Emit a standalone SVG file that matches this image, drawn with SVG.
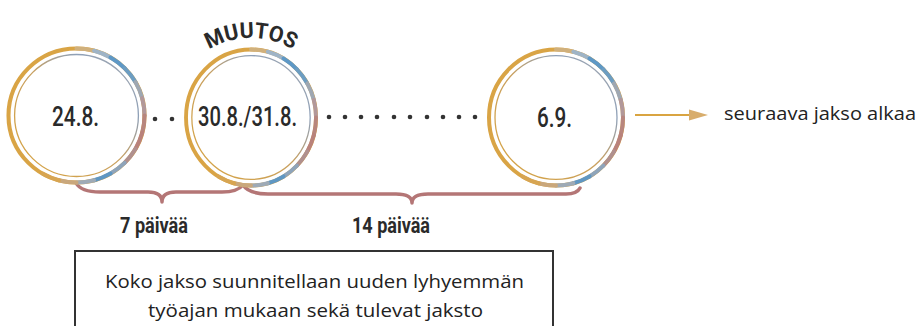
<svg xmlns="http://www.w3.org/2000/svg" width="918" height="326" viewBox="0 0 918 326">
<defs>
<linearGradient id="inner" x1="0" y1="1" x2="1" y2="0">
<stop offset="0" stop-color="#d8a440"/>
<stop offset="0.5" stop-color="#c8a060"/>
<stop offset="0.75" stop-color="#8ea0b8"/>
<stop offset="1" stop-color="#a8a8a8"/>
</linearGradient>
<g id="ringU">
<circle r="67" fill="#fff" stroke="#d9a445" stroke-width="4"/>
<g fill="none" stroke-width="4" stroke-linecap="round">
<path d="M 0 -67 A 67 67 0 0 1 17.34 -64.72" stroke="#d0b07c"/>
<path d="M 17.34 -64.72 A 67 67 0 0 1 33.5 -58.02" stroke="#9fb4c6"/>
<path d="M 33.5 -58.02 A 67 67 0 0 1 47.38 -47.38" stroke="#5e98c6"/>
<path d="M 47.38 -47.38 A 67 67 0 0 1 58.02 -33.5" stroke="#6c9dc2"/>
<path d="M 58.02 -33.5 A 67 67 0 0 1 64.72 -17.34" stroke="#9ea7b2"/>
<path d="M 64.72 -17.34 A 67 67 0 0 1 67 0" stroke="#b2989a"/>
<path d="M 67 0 A 67 67 0 0 1 64.72 17.34" stroke="#b8867e"/>
<path d="M 64.72 17.34 A 67 67 0 0 1 58.02 33.5" stroke="#b9827b"/>
<path d="M 58.02 33.5 A 67 67 0 0 1 47.38 47.38" stroke="#b0908e"/>
<path d="M 47.38 47.38 A 67 67 0 0 1 33.5 58.02" stroke="#8ea4ba"/>
<path d="M 33.5 58.02 A 67 67 0 0 1 17.34 64.72" stroke="#5f97c3"/>
<path d="M 17.34 64.72 A 67 67 0 0 1 0 67" stroke="#9eaab6"/>
<path d="M 0 67 A 67 67 0 0 1 -17.34 64.72" stroke="#c9a77c"/>
<path d="M -17.34 64.72 A 67 67 0 0 1 -33.5 58.02" stroke="#d7a552"/>
</g>
<circle r="61" fill="none" stroke="url(#inner)" stroke-width="1.3"/>
</g>
<path id="arc" d="M 191 64 A 82 82 0 0 1 311 64"/>
</defs>
<style>
.num{font-family:Roboto,"Liberation Sans",sans-serif;font-weight:500;font-size:28px;fill:#2a2a2a}
.lbl{font-family:Roboto,"Liberation Sans",sans-serif;font-weight:700;font-size:22px;fill:#2a2a2a}
.body{font-family:"Open Sans","Noto Sans",sans-serif;font-size:19px;fill:#222}
.dot{fill:#333}
.brace{fill:none;stroke:#b47676;stroke-width:3.5;stroke-linecap:round;stroke-linejoin:round}
</style>
<rect width="918" height="326" fill="#fff"/>

<g id="connectors">
<g id="dots1">
<circle class="dot" cx="155" cy="119" r="2.3"/>
<circle class="dot" cx="172" cy="119" r="2.3"/>
</g>
<g id="dots2">
<circle class="dot" cx="329" cy="117" r="2.3"/>
<circle class="dot" cx="345" cy="117" r="2.3"/>
<circle class="dot" cx="361" cy="117" r="2.3"/>
<circle class="dot" cx="377" cy="117" r="2.3"/>
<circle class="dot" cx="394" cy="117" r="2.3"/>
<circle class="dot" cx="410" cy="117" r="2.3"/>
<circle class="dot" cx="427" cy="117" r="2.3"/>
<circle class="dot" cx="443" cy="117" r="2.3"/>
<circle class="dot" cx="459" cy="117" r="2.3"/>
<circle class="dot" cx="475" cy="117" r="2.3"/>
</g>
<path class="brace" d="M 76 183 C 80 190 88 192 100 192 L 148 192 C 157 192 162 195 162 202 C 162 195 167 192 176 192 L 222 192 C 233 192 239 190 243 185"/>
<path class="brace" d="M 243 185 C 247 191 254 194 268 194 L 396 194 C 406 194 412 197 412 203 C 412 197 418 194 428 194 L 566 194 C 574 194 578 192 580 188"/>
<g id="arrow">
<line x1="635" y1="115" x2="692" y2="115" stroke="#d9a441" stroke-width="2"/>
<polygon points="689,109.5 708,115 689,120.5" fill="#d8ad6c"/>
</g>
</g>

<g id="node-24">
<use href="#ringU" transform="translate(76.5,115.5) scale(1.015,1)"/>
<text class="num" x="52" y="126" textLength="47" lengthAdjust="spacingAndGlyphs">24.8.</text>
</g>

<g id="node-30">
<use href="#ringU" transform="translate(251,117.5) scale(0.97,1.015)"/>
<text class="num" x="198" y="126" textLength="99" lengthAdjust="spacingAndGlyphs">30.8./31.8.</text>
</g>

<g id="muutos">
<text class="lbl" font-size="21" text-anchor="middle"><textPath href="#arc" startOffset="50%" textLength="88" lengthAdjust="spacingAndGlyphs">MUUTOS</textPath></text>
</g>

<g id="node-6">
<use href="#ringU" transform="translate(556,117.5) scale(1,1.015)"/>
<text class="num" x="537" y="127" textLength="35" lengthAdjust="spacingAndGlyphs">6.9.</text>
</g>

<g id="next">
<text class="body" x="724" y="120" textLength="192" lengthAdjust="spacingAndGlyphs">seuraava jakso alkaa</text>
</g>

<g id="label-7">
<text class="lbl" x="120" y="233" textLength="68" lengthAdjust="spacingAndGlyphs">7 päivää</text>
</g>
<g id="label-14">
<text class="lbl" x="352" y="233" textLength="78" lengthAdjust="spacingAndGlyphs">14 päivää</text>
</g>

<g id="note">
<rect x="75" y="251" width="478" height="100" fill="none" stroke="#333" stroke-width="2"/>
<text class="body" x="105" y="288" textLength="419" lengthAdjust="spacingAndGlyphs">Koko jakso suunnitellaan uuden lyhyemmän</text>
<text class="body" x="148" y="317" textLength="335" lengthAdjust="spacingAndGlyphs">työajan mukaan sekä tulevat jaksto</text>
</g>
</svg>
